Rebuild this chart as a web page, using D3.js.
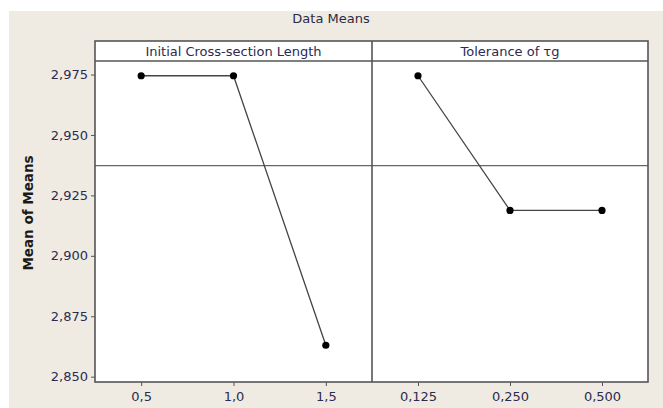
<!DOCTYPE html>
<html>
<head>
<meta charset="utf-8">
<script src="https://cdn.jsdelivr.net/npm/d3@7"></script>
<style>
  body { margin: 0; background: #fff; }
  text { font-family: "DejaVu Sans", Verdana, sans-serif; }
</style>
</head>
<body>
<div id="chart"></div>
<script>
// factor levels and means
let lengthLevels = ['0,5', '1,0', '1,5'];
let lengthMeans = [2.9745, 2.9745, 2.8630];
let tolLevels = ['0,125', '0,250', '0,500'];
let tolMeans = [2.9745, 2.9188, 2.9188];
let grandMean = 2.9373;
let yTicks = [2.850, 2.875, 2.900, 2.925, 2.950, 2.975];
let panelTitles = ['Initial Cross-section Length', 'Tolerance of τg'];

let W = 663, H = 408;
let padL = 95, padR = 648, padT = 41, headH = 20, padB = 382;
let mid = 372;

let svg = d3.select('#chart').append('svg')
  .attr('width', W).attr('height', H);

// beige backdrop
svg.append('rect').attr('x', 9).attr('y', 11)
  .attr('width', W - 9).attr('height', H - 11)
  .attr('fill', '#efebe2');

svg.append('text').attr('x', 331).attr('y', 23)
  .attr('text-anchor', 'middle')
  .style('font-size', '13px').attr('fill', '#2b2b45')
  .text('Data Means');

let y = d3.scaleLinear().domain([2.8478, 2.9806]).range([padB, padT + headH]);

let fmt = d => d3.format('.3f')(d).replace('.', ',');

// y axis
let yAxis = svg.append('g').attr('transform', `translate(${padL},0)`)
  .call(d3.axisLeft(y).tickValues(yTicks).tickSize(4).tickPadding(3).tickFormat(fmt));
yAxis.select('.domain').remove();
yAxis.selectAll('line').attr('stroke', '#555');
yAxis.selectAll('text').style('font-size', '13px').attr('fill', '#2b2b50')
  .style('font-family', '"DejaVu Sans", Verdana, sans-serif');

svg.append('text')
  .attr('transform', 'translate(33,213) rotate(-90)')
  .attr('text-anchor', 'middle')
  .style('font-size', '13.5px').style('font-weight', 'bold')
  .attr('fill', '#1a1a1a')
  .text('Mean of Means');

let panels = [
  { title: panelTitles[0], levels: lengthLevels, means: lengthMeans, x0: padL, x1: mid },
  { title: panelTitles[1], levels: tolLevels, means: tolMeans, x0: mid, x1: padR }
];

panels.forEach(p => {
  let x = d3.scalePoint().domain(p.levels).range([p.x0, p.x1]).padding(0.5);
  let g = svg.append('g');

  g.append('rect').attr('x', p.x0).attr('y', padT)
    .attr('width', p.x1 - p.x0).attr('height', padB - padT)
    .attr('fill', '#fff');

  g.append('text').attr('x', (p.x0 + p.x1) / 2).attr('y', padT + 15)
    .attr('text-anchor', 'middle')
    .style('font-size', '13px').attr('fill', '#2b2b50')
    .text(p.title);

  // grand mean reference line
  g.append('line').attr('x1', p.x0).attr('x2', p.x1)
    .attr('y1', y(grandMean)).attr('y2', y(grandMean))
    .attr('stroke', '#666').attr('stroke-width', 1.2);

  let xAxis = g.append('g').attr('transform', `translate(0,${padB})`)
    .call(d3.axisBottom(x).tickSize(4).tickPadding(6));
  xAxis.select('.domain').remove();
  xAxis.selectAll('line').attr('stroke', '#555');
  xAxis.selectAll('text').style('font-size', '13px').attr('fill', '#2b2b50')
    .style('font-family', '"DejaVu Sans", Verdana, sans-serif');

  let pts = p.levels.map((l, i) => [x(l), y(p.means[i])]);
  g.append('path').attr('d', d3.line()(pts))
    .attr('fill', 'none').attr('stroke', '#444').attr('stroke-width', 1.3);

  g.selectAll('circle').data(pts).enter().append('circle')
    .attr('cx', d => d[0]).attr('cy', d => d[1]).attr('r', 3.6)
    .attr('fill', '#000');
});

// frames
let frame = svg.append('g').attr('fill', 'none').attr('stroke', '#555').attr('stroke-width', 1.6);
frame.append('rect').attr('x', padL).attr('y', padT)
  .attr('width', padR - padL).attr('height', padB - padT);
frame.append('line').attr('x1', padL).attr('x2', padR)
  .attr('y1', padT + headH).attr('y2', padT + headH);
frame.append('line').attr('x1', mid).attr('x2', mid)
  .attr('y1', padT).attr('y2', padB);
</script>
</body>
</html>
